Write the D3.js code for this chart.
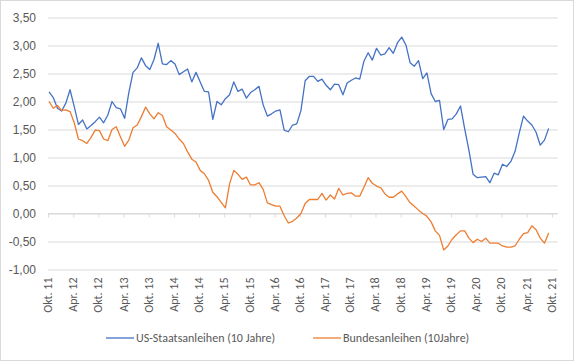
<!DOCTYPE html>
<html>
<head>
<meta charset="utf-8">
<script src="https://cdn.jsdelivr.net/npm/d3@7"></script>
<style>
  body { margin: 0; background: #fff; }
  svg { display: block; font-family: Carlito, Calibri, "Liberation Sans", sans-serif; }
</style>
</head>
<body>
<div id="chart"></div>
<script>
// Monatswerte Okt. 2011 - Sep. 2021
const usYields = [
  2.17, 2.07, 1.88,
  1.83, 1.97, 2.21, 1.91, 1.59, 1.67, 1.51, 1.57, 1.64, 1.72, 1.62, 1.76,
  2.00, 1.89, 1.87, 1.70, 2.16, 2.52, 2.60, 2.78, 2.64, 2.57, 2.75, 3.04,
  2.67, 2.66, 2.73, 2.67, 2.48, 2.53, 2.58, 2.35, 2.52, 2.35, 2.18, 2.17,
  1.68, 2.00, 1.94, 2.05, 2.12, 2.35, 2.18, 2.22, 2.06, 2.16, 2.21, 2.27,
  1.94, 1.74, 1.78, 1.83, 1.85, 1.49, 1.46, 1.58, 1.60, 1.84, 2.37, 2.45,
  2.45, 2.36, 2.40, 2.29, 2.21, 2.31, 2.30, 2.12, 2.33, 2.38, 2.42, 2.40,
  2.72, 2.87, 2.74, 2.95, 2.83, 2.85, 2.96, 2.86, 3.05, 3.15, 3.01, 2.69,
  2.63, 2.73, 2.41, 2.51, 2.14, 2.00, 2.02, 1.50, 1.68, 1.69, 1.78, 1.92,
  1.51, 1.13, 0.70, 0.64, 0.65, 0.66, 0.55, 0.72, 0.69, 0.88, 0.84, 0.93,
  1.11, 1.44, 1.74, 1.65, 1.58, 1.45, 1.22, 1.31, 1.52
];
const bundYields = [
  2.00, 1.88, 1.93,
  1.84, 1.85, 1.82, 1.62, 1.33, 1.30, 1.25, 1.36, 1.49, 1.48, 1.33, 1.30,
  1.50, 1.55, 1.37, 1.20, 1.31, 1.53, 1.58, 1.73, 1.90, 1.78, 1.69, 1.80,
  1.75, 1.55, 1.49, 1.43, 1.33, 1.25, 1.10, 0.97, 0.92, 0.77, 0.71, 0.59,
  0.38, 0.30, 0.20, 0.10, 0.53, 0.77, 0.70, 0.61, 0.65, 0.51, 0.51, 0.55,
  0.43, 0.19, 0.16, 0.13, 0.13, -0.04, -0.17, -0.14, -0.08, 0.00, 0.18, 0.25,
  0.25, 0.25, 0.36, 0.24, 0.33, 0.26, 0.45, 0.33, 0.36, 0.37, 0.31, 0.31,
  0.47, 0.64, 0.54, 0.49, 0.46, 0.35, 0.29, 0.29, 0.35, 0.40, 0.30, 0.19,
  0.13, 0.06, 0.00, -0.05, -0.15, -0.31, -0.39, -0.65, -0.58, -0.46, -0.38, -0.31,
  -0.31, -0.44, -0.52, -0.46, -0.50, -0.44, -0.53, -0.53, -0.53, -0.58, -0.60, -0.60,
  -0.58, -0.46, -0.36, -0.34, -0.22, -0.29, -0.44, -0.53, -0.35
];
const tickLabels = ["Okt. 11","Apr. 12","Okt. 12","Apr. 13","Okt. 13","Apr. 14","Okt. 14",
  "Apr. 15","Okt. 15","Apr. 16","Okt. 16","Apr. 17","Okt. 17","Apr. 18","Okt. 18",
  "Apr. 19","Okt. 19","Apr. 20","Okt. 20","Apr. 21","Okt. 21"];
const seriesNames = ["US-Staatsanleihen (10 Jahre)", "Bundesanleihen (10Jahre)"];
const colors = ["#4472c4", "#ed7d31"];

const width = 574, height = 361;
const plot = {left: 48, right: 557.7, top: 17.5, bottom: 269.5};

const svg = d3.select("#chart").append("svg")
  .attr("width", width)
  .attr("height", height);

svg.append("rect")
  .attr("x", 0.5).attr("y", 0.5)
  .attr("width", width - 1).attr("height", height - 1)
  .attr("fill", "#fff").attr("stroke", "#d9d9d9");

const x = d3.scaleLinear().domain([0, 121.4]).range([plot.left, plot.right]);
const y = d3.scaleLinear().domain([-1, 3.5]).range([plot.bottom, plot.top]);

const fmt = v => d3.format(".2f")(v).replace(".", ",").replace("−", "-");

// Gitterlinien + y-Achse
const yAxis = d3.axisLeft(y)
  .tickValues(d3.range(-1, 3.51, 0.5))
  .tickSize(-(plot.right - plot.left))
  .tickPadding(12)
  .tickFormat(fmt);

svg.append("g")
  .attr("transform", `translate(${plot.left},0)`)
  .call(yAxis)
  .call(g => g.select(".domain").remove())
  .call(g => g.selectAll(".tick line").attr("stroke", "#d9d9d9"))
  .call(g => g.selectAll(".tick text").attr("fill", "#595959").style("font-size", "12px"));

// x-Achse auf Null
const tickMonths = tickLabels.map((d, i) => i * 6);
const xAxis = d3.axisBottom(x)
  .tickValues(tickMonths)
  .tickSize(4)
  .tickFormat("");

svg.append("g")
  .attr("transform", `translate(0,${y(0)})`)
  .call(xAxis)
  .call(g => g.select(".domain").attr("stroke", "#d9d9d9").attr("d", `M${plot.left},0H${plot.right}`))
  .call(g => g.selectAll(".tick line").attr("stroke", "#d9d9d9"));

// Achsenbeschriftung unten, gedreht
svg.append("g")
  .selectAll("text")
  .data(tickLabels)
  .enter().append("text")
  .attr("transform", (d, i) => `translate(${x(tickMonths[i]) + 4},${plot.bottom + 8}) rotate(-90)`)
  .attr("text-anchor", "end")
  .attr("fill", "#595959")
  .style("font-size", "12px")
  .text(d => d);

const line = d3.line()
  .x((d, i) => x(i + 0.25))
  .y(d => y(d));

[usYields, bundYields].forEach((s, k) => {
  svg.append("path")
    .datum(s)
    .attr("fill", "none")
    .attr("stroke", colors[k])
    .attr("stroke-width", 1.3)
    .attr("stroke-linejoin", "round")
    .attr("d", line);
});

// Legende
const legendX = [106, 313];
const legend = svg.append("g");
seriesNames.forEach((name, k) => {
  legend.append("line")
    .attr("x1", legendX[k]).attr("x2", legendX[k] + 28)
    .attr("y1", 338).attr("y2", 338)
    .attr("stroke", colors[k]).attr("stroke-width", 1.3);
  legend.append("text")
    .attr("x", legendX[k] + 30).attr("y", 342)
    .attr("fill", "#595959")
    .style("font-size", "12px")
    .text(name);
});
</script>
</body>
</html>
